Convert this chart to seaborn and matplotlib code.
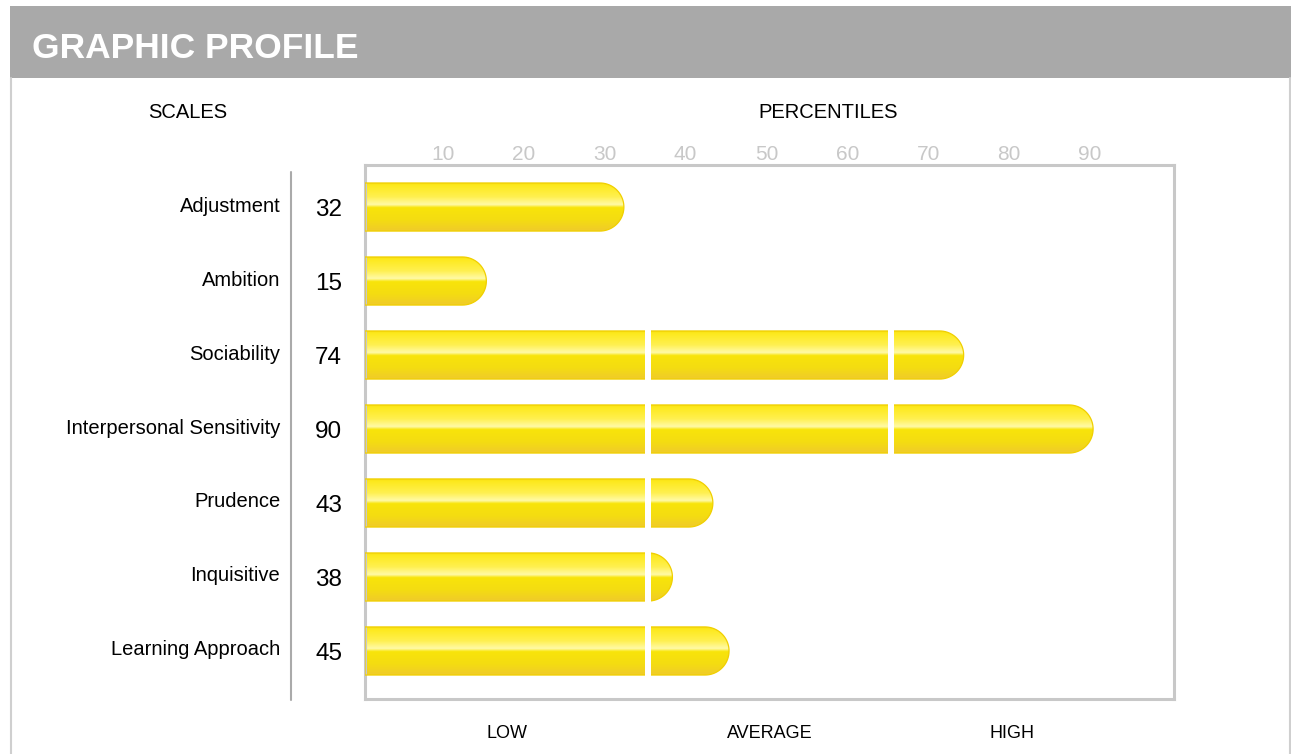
import numpy as np
import pandas as pd
import matplotlib
matplotlib.use("Agg")
import matplotlib.pyplot as plt
import seaborn as sns
from matplotlib.colors import LinearSegmentedColormap
from matplotlib.patches import Polygon, Rectangle
from matplotlib.lines import Line2D
from matplotlib.transforms import blended_transform_factory, ScaledTranslation

# data
scales = ["Adjustment", "Ambition", "Sociability", "Interpersonal Sensitivity",
          "Prudence", "Inquisitive", "Learning Approach"]
percentiles = [32, 15, 74, 90, 43, 38, 45]
tick_values = [10, 20, 30, 40, 50, 60, 70, 80, 90]
band_edges = [35, 65]
band_labels = ["LOW", "AVERAGE", "HIGH"]
band_centers = [17.5, 50, 80]

df = pd.DataFrame({"scale": scales, "value": percentiles})

sns.set_theme(style="white")
plt.rcParams["font.family"] = ["Liberation Sans", "DejaVu Sans"]
plt.rcParams["text.color"] = "black"

W, H = 1291, 754
fig = plt.figure(figsize=(W / 100, H / 100), dpi=100)
fig.patch.set_facecolor("white")

# header band + panel borders
fig.add_artist(Rectangle((10 / W, 1 - 78 / H), 1 - 10 / W, 72 / H,
                         transform=fig.transFigure, color="#a9a9a9", lw=0))
fig.text(32 / W, 1 - 48 / H, "GRAPHIC PROFILE", color="white", fontsize=25.5,
         fontweight="bold", va="center", ha="left")
for xp in (10.5, 1290):
    fig.add_artist(Line2D([xp / W, xp / W], [0, 1 - 78 / H], transform=fig.transFigure,
                          color="#cfcfcf", lw=1.5))

fig.text(188 / W, 1 - 112 / H, "SCALES", fontsize=14.5, ha="center", va="center")
fig.text(828 / W, 1 - 112 / H, "PERCENTILES", fontsize=14.5, ha="center", va="center")

# separator line between names and values
fig.add_artist(Line2D([291 / W, 291 / W], [1 - 172 / H, 1 - 700 / H],
                      transform=fig.transFigure, color="#aaaaaa", lw=1.5))

ax = fig.add_axes([365 / W, 1 - 699 / H, 809 / W, 534 / H])
bar_h = 0.65
sns.barplot(data=df, x="value", y="scale", orient="h", color="#f7e000",
            width=bar_h, ax=ax, edgecolor="none")

ax.set_xlim(0, 100)
ax.set_ylim(6.649, -0.568)
ax.set_xlabel("")
ax.set_ylabel("")
ax.xaxis.tick_top()
ax.set_xticks(tick_values)
ax.set_xticklabels([str(t) for t in tick_values])
ax.tick_params(axis="x", length=0, pad=2, labelsize=15, labelcolor="#c8c8c8")
ax.tick_params(axis="y", length=0, pad=61, labelsize=14.5, labelcolor="black")
shift_x = ScaledTranslation(-3 / 100, -2 / 100, fig.dpi_scale_trans)
for lab in ax.get_xticklabels():
    lab.set_transform(lab.get_transform() + shift_x)
shift_y = ScaledTranslation(0, 3 / 100, fig.dpi_scale_trans)
for lab in ax.get_yticklabels():
    lab.set_transform(lab.get_transform() + shift_y)
for sp in ax.spines.values():
    sp.set_visible(True)
    sp.set_color("#c8c8c8")
    sp.set_linewidth(2.2)

grad = LinearSegmentedColormap.from_list("bar", [
    (0.0, "#f6da10"), (0.06, "#fde91c"), (0.30, "#fff050"), (0.46, "#fffaa8"),
    (0.52, "#f8e40a"), (0.78, "#f4dc12"), (1.0, "#f0cb2a")])
grad_img = np.linspace(0, 1, 200).reshape(-1, 1)

# half bar height expressed in x data units, for the rounded end
px_x = ax.transData.transform((1, 0))[0] - ax.transData.transform((0, 0))[0]
px_y = abs(ax.transData.transform((0, 1))[1] - ax.transData.transform((0, 0))[1])
rx = (bar_h / 2) * px_y / px_x

val_shift = ax.transData + ScaledTranslation(0, -3 / 100, fig.dpi_scale_trans)
for patch, v in zip(list(ax.patches), percentiles):
    y0, h = patch.get_y(), patch.get_height()
    yc = y0 + h / 2
    patch.set_visible(False)
    t = np.linspace(-np.pi / 2, np.pi / 2, 40)
    arc = np.column_stack([v - rx + rx * np.cos(t), yc + (h / 2) * np.sin(t)])
    pts = np.vstack([[[0, y0 + h], [v - rx, y0 + h]], arc[::-1], [[0, y0]]])
    poly = Polygon(pts, closed=True, facecolor="none", edgecolor="#f0cf00",
                   lw=0.9, transform=ax.transData, zorder=3)
    ax.add_patch(poly)
    im = ax.imshow(grad_img, cmap=grad, aspect="auto", extent=[0, v, y0 + h, y0],
                   zorder=2, interpolation="bilinear")
    im.set_clip_path(poly)
    for b in band_edges:
        if v > b:
            ax.add_patch(Rectangle((b - 0.4, y0 - 0.03), 0.76, h + 0.06,
                                   facecolor="white", edgecolor="none", zorder=4))
    ax.text(-4.5, yc, str(v), fontsize=17.5, color="black", ha="center", va="center",
            clip_on=False, transform=val_shift)

ax.set_xlim(0, 100)
ax.set_ylim(6.649, -0.568)

bt = blended_transform_factory(ax.transData, fig.transFigure)
for lab, c in zip(band_labels, band_centers):
    ax.text(c, 1 - 733 / H, lab, transform=bt, fontsize=13, ha="center", va="center",
            color="black",
            family=["Liberation Sans Narrow", "Liberation Sans", "DejaVu Sans"])

fig.savefig("out.png", dpi=100)
